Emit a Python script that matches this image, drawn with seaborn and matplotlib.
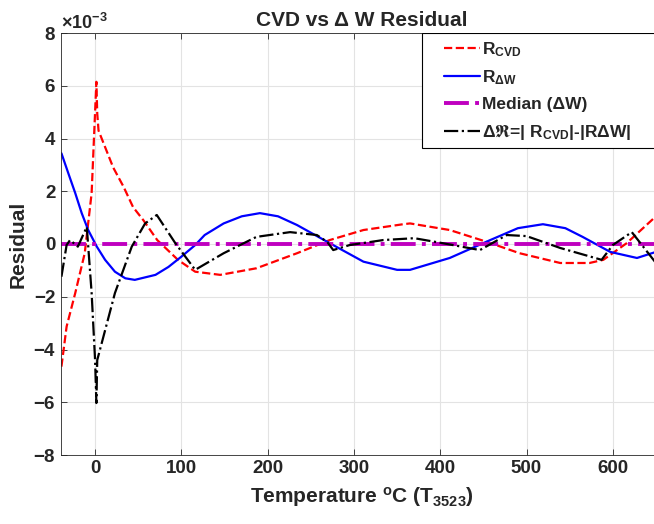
#!/usr/bin/env python3
import numpy as np
import pandas as pd
import matplotlib
matplotlib.use("Agg")
import matplotlib.pyplot as plt
from matplotlib.patches import Rectangle
import seaborn as sns

# --- valores (resíduos em unidades de 1e-3) ---
temp_cvd = [-39, -33, -23, -12, -4, 1.5, 2.5, 4, 21, 33, 44, 56, 72, 96, 116, 145, 187, 234,
            272, 311, 357, 365, 411, 454, 492, 539, 573, 589, 616, 650]
r_cvd = [-4.65, -3.13, -1.86, -0.35, 1.93, 6.15, 4.95, 4.3, 2.9, 2.17, 1.4, 0.9, 0.15, -0.6,
         -1.05, -1.17, -0.92, -0.35, 0.15, 0.53, 0.75, 0.78, 0.53, 0.08, -0.35, -0.72, -0.72,
         -0.6, 0.03, 1.05]

temp_dw = [-39, -31, -23, -15.5, -8, 2, 11.6, 23, 35, 46, 70, 85, 100, 116, 127, 149, 170,
           191, 212, 234, 272, 311, 350, 365, 411, 458, 490, 519, 545, 565, 597, 628, 650]
r_dw = [3.44, 2.68, 1.93, 1.17, 0.53, -0.1, -0.6, -1.05, -1.3, -1.36, -1.17, -0.87, -0.48,
        -0.04, 0.34, 0.78, 1.05, 1.17, 1.05, 0.72, 0.03, -0.67, -0.98, -0.98, -0.53, 0.15,
        0.6, 0.75, 0.6, 0.27, -0.3, -0.53, -0.3]

temp_diff = [-39, -33, -29, -20, -9.6, -4, 0, 1.5, 2.5, 23, 42.5, 58, 71.5, 93, 116, 149,
             187, 226, 257, 269, 276, 295, 334, 370, 403, 446, 477, 500, 539, 587, 600,
             622, 650]
r_diff = [-1.24, -0.04, 0.15, -0.1, 0.65, -1.86, -4.4, -6.03, -4.4, -1.86, -0.1, 0.78, 1.1,
          0.03, -0.98, -0.35, 0.27, 0.45, 0.34, 0.08, -0.23, -0.04, 0.15, 0.22, 0.03, -0.23,
          0.34, 0.3, -0.15, -0.6, -0.04, 0.45, -0.72]

median_dw = 0.0
x_ticks = [0, 100, 200, 300, 400, 500, 600]
y_ticks = [-8, -6, -4, -2, 0, 2, 4, 6, 8]


def main():
    sns.set_style("whitegrid")
    plt.rcParams.update({
        "font.family": ["Liberation Sans", "DejaVu Sans"],
        "font.weight": "bold",
        "mathtext.fontset": "custom",
        "mathtext.rm": "Liberation Sans:bold",
        "mathtext.it": "Liberation Sans:bold",
        "mathtext.bf": "Liberation Sans:bold",
        "mathtext.sf": "Liberation Sans:bold",
        "mathtext.default": "rm",
        "mathtext.fallback": "stixsans",
        "axes.unicode_minus": False,
    })

    fig = plt.figure(figsize=(6.54, 5.24), dpi=100)
    # eixo vai um pouco além da borda direita (como no original recortado)
    ax = fig.add_axes([61 / 654, 69 / 524, 601 / 654, 422 / 524])

    scale = 1e-3
    cvd = pd.DataFrame({"T": temp_cvd, "R": np.array(r_cvd) * scale})
    dw = pd.DataFrame({"T": temp_dw, "R": np.array(r_dw) * scale})
    diff = pd.DataFrame({"T": temp_diff, "R": np.array(r_diff) * scale})

    sns.lineplot(data=cvd, x="T", y="R", ax=ax, color="red", linestyle="--", lw=1.6,
                 sort=False, estimator=None, label="R$_{CVD}$")
    sns.lineplot(data=dw, x="T", y="R", ax=ax, color="blue", linestyle="-", lw=1.6,
                 sort=False, estimator=None, label="R$_{ΔW}$")
    ax.axhline(median_dw * scale, color="#bf00bf", linestyle="-.", lw=2.8,
               label="Median (ΔW)")
    sns.lineplot(data=diff, x="T", y="R", ax=ax, color="black", linestyle="-.", lw=1.6,
                 sort=False, estimator=None, label=r"Δ$\Re$=| R$_{CVD}$|-|RΔW|")

    ax.set_xlim(-39.5, 657)
    ax.set_ylim(-8e-3, 8e-3)
    ax.set_xticks(x_ticks)
    ax.set_yticks(np.array(y_ticks) * scale)
    ax.ticklabel_format(axis="y", style="sci", scilimits=(-3, -3), useMathText=True)
    ax.yaxis.get_offset_text().set_fontsize(13)
    ax.yaxis.get_offset_text().set_color("#262626")

    ax.tick_params(direction="in", length=4, width=0.6, colors="#262626", labelsize=13.5,
                   top=True, right=True, bottom=True, left=True)
    for lab in ax.get_xticklabels() + ax.get_yticklabels():
        lab.set_fontweight("bold")
    for sp in ax.spines.values():
        sp.set_color("#262626")
        sp.set_linewidth(0.6)
    ax.grid(True, color="#e3e3e3", lw=0.8)

    ax.set_title("CVD vs Δ W Residual", fontsize=15, fontweight="bold", pad=5)
    ax.set_xlabel("Temperature $^{o}$C (T$_{3523}$)", fontsize=15, fontweight="bold",
                  labelpad=6)
    ax.set_ylabel("Residual", fontsize=15, fontweight="bold", labelpad=4)

    # legenda sem moldura + moldura desenhada à parte (estilo MATLAB)
    leg = ax.legend(loc="upper left", bbox_to_anchor=((444 - 61) / 601, (455 - 40) / 422),
                    fontsize=12.5, frameon=False, borderpad=0, borderaxespad=0,
                    handlelength=2.1, handletextpad=0.1, labelspacing=0.56)
    frame = Rectangle(((422 - 61) / 601, (455 - 148) / 422), 1.2, 115 / 422,
                      transform=ax.transAxes, facecolor="white", edgecolor="black",
                      lw=0.8, zorder=4.9, clip_on=True)
    ax.add_patch(frame)
    leg.set_zorder(5)

    fig.savefig("out.png", dpi=100)
    plt.close(fig)


if __name__ == "__main__":
    main()
